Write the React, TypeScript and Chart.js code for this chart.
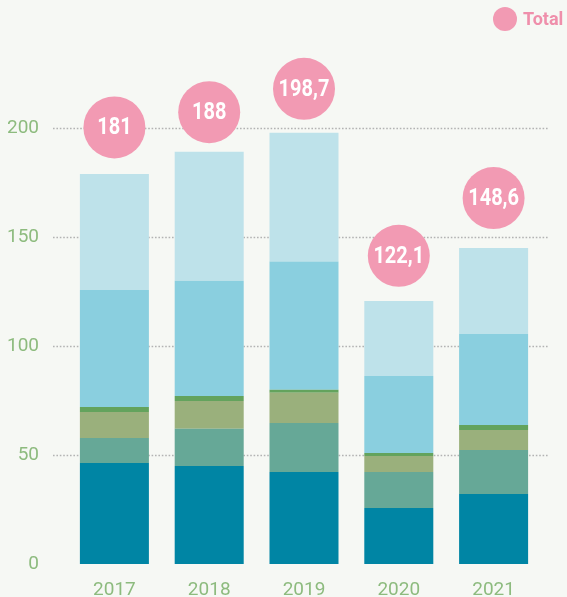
import React, { useEffect, useRef } from "react";
import { Chart, registerables } from "chart.js";

Chart.register(...registerables);

const categories = ["2017", "2018", "2019", "2020", "2021"];
const seriesA = [46.3, 45.0, 42.2, 25.7, 32.1];
const seriesB = [11.5, 17.0, 22.5, 16.5, 20.2];
const seriesC = [11.9, 12.8, 13.8, 7.3, 9.2];
const seriesD = [2.3, 2.3, 1.4, 1.4, 2.3];
const seriesE = [53.7, 52.8, 58.9, 35.3, 41.7];
const seriesF = [53.2, 59.2, 59.0, 34.4, 39.4];
const totals = [181, 188, 198.7, 122.1, 148.6];
const totalLabel = "Total";
const yTicks = [0, 50, 100, 150, 200];

const BG = "#f6f8f4";
const PINK = "#f29ab3";
const GREEN_TEXT = "#8dbb7e";

export default function App() {
  const ref = useRef<HTMLCanvasElement | null>(null);

  useEffect(() => {
    document.body.style.margin = "0";
    document.body.style.background = BG;
    const canvas = ref.current;
    if (!canvas) return;

    const decorPlugin = {
      id: "decor",
      beforeDraw(chart: any) {
        const { ctx, width, height } = chart;
        ctx.save();
        ctx.fillStyle = BG;
        ctx.fillRect(0, 0, width, height);
        ctx.restore();
      },
      beforeDatasetsDraw(chart: any) {
        const { ctx } = chart;
        const y = chart.scales.y;
        ctx.save();
        ctx.strokeStyle = "#b3b3b3";
        ctx.lineWidth = 1.6;
        ctx.setLineDash([1.6, 1.8]);
        yTicks.forEach((t) => {
          if (t === 0) return;
          const py = Math.round(y.getPixelForValue(t)) + 0.5;
          ctx.beginPath();
          ctx.moveTo(53, py);
          ctx.lineTo(548, py);
          ctx.stroke();
        });
        ctx.restore();
      },
      afterDatasetsDraw(chart: any) {
        const { ctx } = chart;
        const x = chart.scales.x;
        const y = chart.scales.y;
        ctx.save();
        totals.forEach((v, i) => {
          const cx = x.getPixelForValue(i);
          const cy = y.getPixelForValue(v) - 42;
          ctx.beginPath();
          ctx.fillStyle = PINK;
          ctx.arc(cx, cy, 31, 0, Math.PI * 2);
          ctx.fill();
          ctx.save();
          ctx.translate(cx, cy + 1);
          ctx.scale(0.87, 1);
          ctx.fillStyle = "#ffffff";
          ctx.font = "bold 23px Roboto";
          ctx.textAlign = "center";
          ctx.textBaseline = "middle";
          ctx.fillText(String(v).replace(".", ","), 0, 0);
          ctx.restore();
        });
        // legend
        ctx.beginPath();
        ctx.fillStyle = PINK;
        ctx.arc(505, 19, 12, 0, Math.PI * 2);
        ctx.fill();
        ctx.fillStyle = "#ef8fab";
        ctx.font = "bold 18px Roboto";
        ctx.textAlign = "left";
        ctx.textBaseline = "middle";
        ctx.fillText(totalLabel, 523, 20);
        ctx.restore();
      },
    };

    const mk = (label: string, data: number[], color: string) => ({
      type: "bar" as const,
      label,
      data,
      backgroundColor: color,
      borderWidth: 0,
      stack: "s",
      categoryPercentage: 1,
      barPercentage: 0.728,
    });

    const chart = new Chart(canvas, {
      type: "bar",
      data: {
        labels: categories,
        datasets: [
          mk("A", seriesA, "#0085a4"),
          mk("B", seriesB, "#66a897"),
          mk("C", seriesC, "#9ab07c"),
          mk("D", seriesD, "#63a35d"),
          mk("E", seriesE, "#8acfdf"),
          mk("F", seriesF, "#bee2ea"),
        ],
      },
      options: {
        responsive: false,
        animation: false,
        layout: { padding: { top: 128, left: 8, right: 26, bottom: 0 } },
        plugins: {
          legend: { display: false },
          tooltip: { enabled: false },
        },
        scales: {
          x: {
            stacked: true,
            grid: { display: false, drawTicks: false },
            border: { display: false },
            afterFit: (scale: any) => {
              scale.height = 33;
            },
            ticks: {
              color: GREEN_TEXT,
              font: { family: "Roboto", size: 19, lineHeight: 1 },
              padding: 17,
            },
          },
          y: {
            stacked: true,
            min: 0,
            max: 200,
            afterBuildTicks: (scale: any) => {
              scale.ticks = yTicks.map((v) => ({ value: v }));
            },
            afterFit: (scale: any) => {
              scale.width = 59;
              scale.paddingTop = 0;
              scale.paddingBottom = 0;
            },
            grid: { display: false, drawTicks: false },
            border: { display: false },
            ticks: {
              color: GREEN_TEXT,
              font: { family: "Roboto", size: 19 },
              padding: 28,
            },
          },
        },
      },
      plugins: [decorPlugin],
    });

    return () => chart.destroy();
  }, []);

  return <canvas ref={ref} width={567} height={597} style={{ display: "block" }} />;
}
